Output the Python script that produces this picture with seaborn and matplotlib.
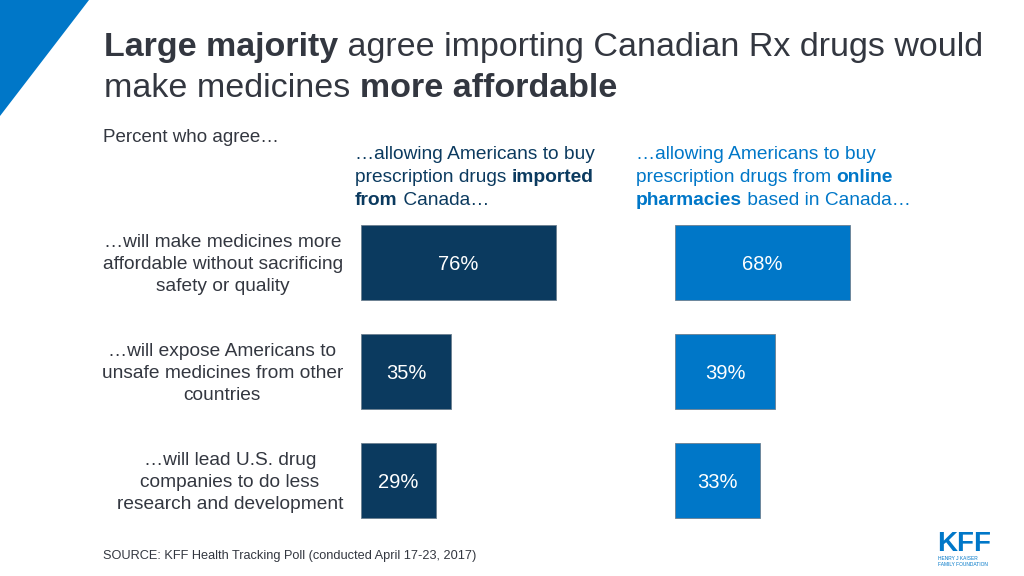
import matplotlib
matplotlib.use("Agg")
import matplotlib.pyplot as plt
import matplotlib.patches as mpatches
import seaborn as sns
import pandas as pd

sns.set_theme(style="white")
plt.rcParams['font.family'] = ['Liberation Sans', 'DejaVu Sans']

# ---- data ----
statements = [
    "…will make medicines more\naffordable without sacrificing\nsafety or quality",
    "…will expose Americans to\nunsafe medicines from other\ncountries",
    "…will lead U.S. drug\ncompanies to do less\nresearch and development",
]
imported_vals = [76, 35, 29]
online_vals = [68, 39, 33]
value_labels_imported = ["76%", "35%", "29%"]
value_labels_online = ["68%", "39%", "33%"]

NAVY = "#0b3a5f"
BLUE = "#0077c8"
TEXT = "#333740"

W, H = 1024, 576
fig = plt.figure(figsize=(W / 100, H / 100), dpi=100)
fig.patch.set_facecolor("white")
renderer = fig.canvas.get_renderer()

def fx(x):
    return x / W

def fy(y):
    return 1 - y / H

# corner triangle
tri = mpatches.Polygon([[0, 1], [fx(89), 1], [0, fy(116)]], closed=True,
                       transform=fig.transFigure, facecolor=BLUE, edgecolor="none")
fig.patches.append(tri)

def rich_line(x_px, y_px, pieces, size, color):
    x = x_px
    for txt, w in pieces:
        t = fig.text(fx(x), fy(y_px), txt, fontsize=size, fontweight=w,
                     color=color, va="baseline", ha="left")
        bb = t.get_window_extent(renderer)
        x += bb.width

# title
rich_line(104, 56, [("Large majority", "bold"), (" agree importing Canadian Rx drugs would", "normal")], 24.5, TEXT)
rich_line(104, 97, [("make medicines ", "normal"), ("more affordable", "bold")], 24.5, TEXT)

fig.text(fx(103), fy(142), "Percent who agree…", fontsize=13.5, color=TEXT, va="baseline")

# column headers
HS = 13.8
rich_line(355, 159, [("…allowing Americans to buy", "normal")], HS, NAVY)
rich_line(355, 182, [("prescription drugs ", "normal"), ("imported", "bold")], HS, NAVY)
rich_line(355, 205, [("from", "bold"), (" Canada…", "normal")], HS, NAVY)

rich_line(636, 159, [("…allowing Americans to buy", "normal")], HS, BLUE)
rich_line(636, 182, [("prescription drugs from ", "normal"), ("online", "bold")], HS, BLUE)
rich_line(636, 205, [("pharmacies", "bold"), (" based in Canada…", "normal")], HS, BLUE)

# axes geometry: 2.57 px per percent, bar rows every 109 px
ax_top, ax_bot = 208, 535
ax_w = 257
ax1 = fig.add_axes([fx(361), fy(ax_bot), fx(ax_w), (ax_bot - ax_top) / H])
ax2 = fig.add_axes([fx(675), fy(ax_bot), fx(ax_w), (ax_bot - ax_top) / H])

df1 = pd.DataFrame({"statement": statements, "value": imported_vals})
df2 = pd.DataFrame({"statement": statements, "value": online_vals})

for ax, df, col, labels in [(ax1, df1, NAVY, value_labels_imported),
                            (ax2, df2, BLUE, value_labels_online)]:
    sns.barplot(data=df, x="value", y="statement", orient="h", color=col,
                width=0.688, edgecolor="#6b7f90", linewidth=0.6, saturation=1, ax=ax)
    ax.set_xlim(0, 100)
    ax.set_ylim(2.5, -0.5)
    ax.axis("off")
    for i, (v, lab) in enumerate(zip(df["value"], labels)):
        ax.text(v / 2, i + 0.015, lab, ha="center", va="center", color="white", fontsize=14.5)

# row labels
for i, s in enumerate(statements):
    y = ax1.transData.transform((0, i + 0.018))[1]
    fig.text(fx(343), y / H, s, ha="right", va="center", multialignment="center",
             fontsize=13.8, color=TEXT, linespacing=1.38)

fig.text(fx(103), fy(559), "SOURCE: KFF Health Tracking Poll (conducted April 17-23, 2017)",
         fontsize=9.2, color=TEXT, va="baseline")

# logo
fig.text(fx(937), fy(551), "KFF", fontsize=20, fontweight="bold", color=BLUE,
         va="baseline", ha="left")
fig.text(fx(938), fy(559.5), "HENRY J KAISER", fontsize=3.5, color=BLUE, va="baseline")
fig.text(fx(938), fy(565.5), "FAMILY FOUNDATION", fontsize=3.5, color=BLUE, va="baseline")

fig.savefig("out.png", dpi=100, facecolor="white")
